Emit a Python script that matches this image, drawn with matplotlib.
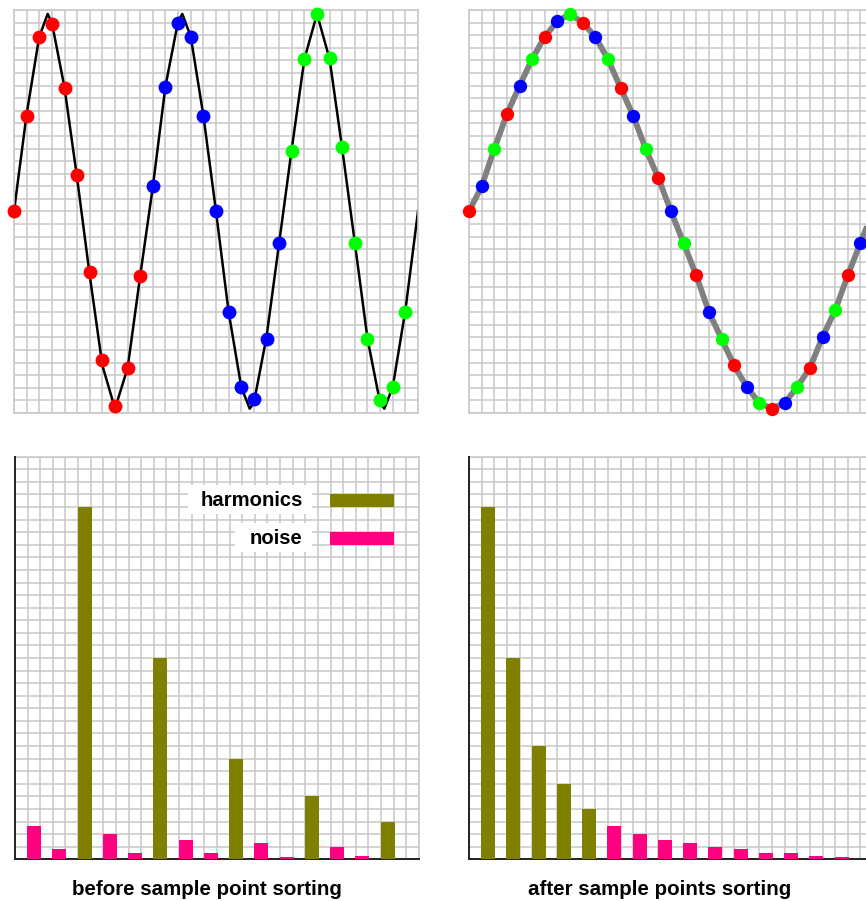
import numpy as np
import matplotlib
matplotlib.use('Agg')
import matplotlib.pyplot as plt
from matplotlib.patches import Rectangle

# --- data ---
# one period of the waveform, 32 phase steps (this is the sorted sequence)
after_vals = [0.0, 0.126, 0.316, 0.492, 0.635, 0.771, 0.885, 0.963,
              1.0, 0.956, 0.885, 0.771, 0.627, 0.485, 0.316, 0.168,
              0.0, -0.161, -0.325, -0.510, -0.646, -0.781, -0.890, -0.971,
              -1.0, -0.971, -0.890, -0.794, -0.637, -0.502, -0.325, -0.161]
after_groups = 'rbgrbgrbgrbgrbgrbgrbgrbgrbgrbgrb'

# samples as taken (3 periods, 32 samples)
before_vals = [0.0, 0.485, 0.882, 0.949, 0.627, 0.185, -0.310, -0.755, -0.988, -0.794, -0.327,
               0.126, 0.629, 0.956, 0.882, 0.485, 0.0, -0.510, -0.890, -0.951, -0.646, -0.161,
               0.308, 0.771, 1.0, 0.776, 0.328, -0.161, -0.646, -0.958, -0.890, -0.510]
before_groups = 'rrrrrrrrrrrbbbbbbbbbbbgggggggggg'

# spectra (grid units)
before_bars = [2.65, 0.8, 28, 2.0, 0.53, 16, 1.53, 0.53, 8, 1.27, 0.16, 5, 1.0, 0.29, 3]
before_kind = 'nnhnnhnnhnnhnnh'
after_bars = [28, 16, 9, 6, 4, 2.65, 2.0, 1.53, 1.27, 1.0, 0.8, 0.53, 0.53, 0.29, 0.16]
after_kind = 'hhhhhnnnnnnnnnn'

legend_labels = ['harmonics', 'noise']
captions = ['before sample point sorting', 'after sample points sorting']

pt_colors = {'r': '#ff0000', 'b': '#0000ff', 'g': '#00ff00'}
bar_colors = {'h': '#808000', 'n': '#ff0080'}
gridc = '#c8c8c8'
fnt = ['Liberation Sans', 'DejaVu Sans']

W, H = 866, 901
fig = plt.figure(figsize=(W/100, H/100), dpi=100)

def px_axes(l, t, w, h):
    return fig.add_axes([l/W, 1-(t+h)/H, w/W, h/H])

def grid_setup(ax, ylo, yhi, black_axes=False):
    ax.set_xlim(0, 32)
    ax.set_ylim(ylo, yhi)
    ax.set_xticks(np.arange(33))
    ax.set_yticks(np.linspace(ylo, yhi, 33))
    ax.tick_params(length=0, labelbottom=False, labelleft=False)
    ax.grid(True, color=gridc, linewidth=1.1)
    ax.set_axisbelow(True)
    for s in ax.spines.values():
        s.set_color(gridc)
        s.set_linewidth(1.1)
    if black_axes:
        for s in ('left', 'bottom'):
            ax.spines[s].set_color('#222222')
            ax.spines[s].set_linewidth(1.4)
            ax.spines[s].set_zorder(2.9)

ylo, yhi = -1.022, 1.020

# top left: samples over three periods
ax1 = px_axes(14, 10, 404, 403)
grid_setup(ax1, ylo, yhi)
# curve: the sample points plus the peaks/troughs of the waveform
n = len(after_vals)
idx = [i for i in range(3*n + 1) if i % 3 == 0 or i % n in (8, 24)]
cx = np.array(idx) / 3
cy = [after_vals[i % n] for i in idx]
ax1.plot(cx, cy, color='black', linewidth=1.8, zorder=2)
for k, (v, g) in enumerate(zip(before_vals, before_groups)):
    ax1.plot(k, v, 'o', color=pt_colors[g], markersize=10, markeredgewidth=0,
             zorder=3, clip_on=False)

# top right: sorted samples over one period
ax2 = px_axes(469, 10, 404, 403)
grid_setup(ax2, ylo, yhi)
lx = np.arange(n + 1)
ly = after_vals + after_vals[:1]
ax2.plot(lx, ly, color='black', linewidth=1.5, zorder=2)
ax2.plot(lx, ly, color='#808080', linewidth=4.2, zorder=2.5, solid_capstyle='butt')
for j, (v, g) in enumerate(zip(after_vals, after_groups)):
    ax2.plot(j, v, 'o', color=pt_colors[g], markersize=9.6, markeredgewidth=0,
             zorder=3, clip_on=False)

# bottom: spectra
def spectrum(ax, vals, kinds):
    grid_setup(ax, 0, 32, black_axes=True)
    xs = np.arange(len(vals))*2 + 1.52
    ax.bar(xs, vals, width=1.1, color=[bar_colors[c] for c in kinds],
           edgecolor='none', zorder=3)

ax3 = px_axes(15, 456.7, 404, 402.6)
spectrum(ax3, before_bars, before_kind)
ax4 = px_axes(469, 456.7, 404, 402.6)
spectrum(ax4, after_bars, after_kind)

# legend drawn on the grid
for lab, kind, ybase, x0 in zip(legend_labels, 'hn', [28, 25], [13.7, 17.43]):
    ax3.add_patch(Rectangle((x0, ybase - 0.55), 23.52 - x0, 2.3,
                            facecolor='white', edgecolor='none', zorder=4))
    ax3.add_patch(Rectangle((24.95, ybase), 5.07, 1.0,
                            facecolor=bar_colors[kind], edgecolor='none', zorder=4))
    ax3.text(22.8, ybase + 0.05, lab, ha='right', va='baseline', fontsize=14.6,
             fontweight='bold', family=fnt, zorder=5)

for cap, xc in zip(captions, [207, 660]):
    fig.text(xc/W, 1 - 895/H, cap, ha='center', va='baseline', fontsize=14.8,
             fontweight='bold', family=fnt)

fig.savefig('out.png', dpi=100)
